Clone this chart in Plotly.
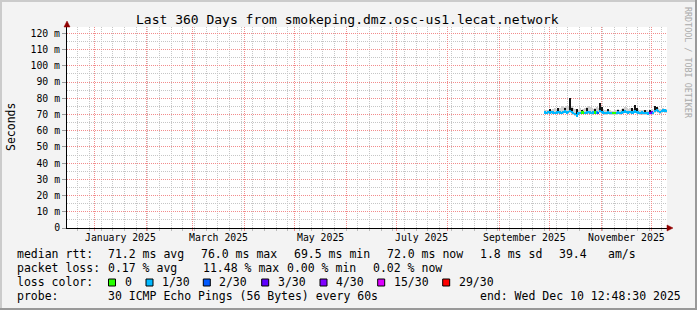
import plotly.graph_objects as go
import pandas as pd

# ---------------- data ----------------
START = "2024-12-15 12:48:30"
END = "2025-12-10 12:48:30"
TITLE = "Last 360 Days from smokeping.dmz.osc-us1.lecat.network"

# daily samples, Sep 28 2025 .. Dec 10 2025 (74 days), centred at noon
dates = pd.date_range("2025-09-28 12:00", periods=74, freq="D")

median_ms = [
    71.2, 71.0, 71.4, 71.1, 71.5, 71.2, 71.0, 71.3,
    71.6, 71.2, 71.0, 71.4, 71.7, 71.3, 71.5, 72.2,
    71.4, 70.8, 70.2, 69.5, 70.6, 71.0, 71.1, 71.2,
    71.0, 71.3, 71.5, 71.1, 71.0, 71.2, 71.1, 71.3,
    71.0, 72.0, 71.6, 71.2, 71.0, 70.9, 71.1, 71.0,
    71.0, 70.8, 70.9, 71.0, 71.2, 71.0, 71.1, 71.4,
    71.8, 71.5, 71.2, 71.6, 71.3, 71.2, 71.8, 71.5,
    71.1, 71.0, 71.2, 70.8, 71.0, 70.9, 70.7, 71.0,
    71.2, 71.0, 72.2, 72.8, 72.0, 71.6, 72.2, 72.5,
    72.3, 72.0,
]
smoke_hi_ms = [
    72.5, 72.8, 73.0, 73.6, 72.9, 73.5, 74.0, 73.2,
    74.2, 73.8, 74.5, 75.0, 74.6, 75.2, 75.5, 76.0,
    75.0, 74.0, 73.2, 72.5, 73.0, 73.8, 73.0, 73.4,
    74.0, 74.8, 75.2, 74.5, 74.0, 73.5, 74.2, 74.6,
    74.0, 75.5, 74.8, 73.6, 73.0, 72.8, 73.2, 72.6,
    72.4, 72.2, 72.5, 73.0, 73.2, 72.8, 73.6, 74.0,
    74.4, 74.0, 73.5, 74.2, 73.8, 73.6, 74.5, 74.0,
    73.2, 72.8, 73.0, 72.6, 73.0, 72.5, 72.4, 73.0,
    73.4, 73.0, 74.0, 74.5, 73.8, 73.2, 73.6, 73.8,
    73.5, 73.2,
]
smoke_lo_ms = [
    70.2, 70.0, 70.3, 70.1, 70.4, 70.2, 70.0, 70.2,
    70.5, 70.2, 70.0, 70.3, 70.6, 70.2, 70.4, 70.8,
    70.3, 69.8, 69.2, 68.8, 69.6, 70.0, 70.1, 70.2,
    70.0, 70.2, 70.4, 70.0, 69.9, 70.1, 70.0, 70.2,
    70.0, 70.6, 70.4, 70.1, 69.9, 69.8, 70.0, 69.9,
    69.9, 69.7, 69.8, 69.9, 70.1, 69.9, 70.0, 70.3,
    70.6, 70.4, 70.1, 70.5, 70.2, 70.1, 70.6, 70.4,
    70.0, 69.9, 70.1, 69.7, 69.9, 69.8, 69.6, 69.9,
    70.1, 69.9, 70.8, 71.4, 70.8, 70.4, 71.0, 71.3,
    71.1, 70.9,
]
N = None
spike_hi_ms = [
    N, N, N, 73.5, N, N, N, N,
    73.8, N, N, N, 74.0, N, N, 80.0,
    74.2, N, N, 73.2, N, N, 73.0, N,
    N, 73.8, N, N, N, N, 73.5, N,
    N, 77.0, 74.5, N, N, N, 73.2, N,
    N, N, N, N, 72.9, N, N, 73.5,
    N, N, N, N, 74.0, N, 76.0, 74.2,
    N, N, N, N, 73.0, N, N, 73.0,
    N, N, 75.5, 74.8, N, N, N, N,
    N, N,
]
loss_idx = [
    1, 1, 1, 1, 1, 1, 1, 1,
    1, 1, 1, 1, 1, 1, 1, 1,
    1, 1, 1, 1, 1, 1, 0, 0,
    1, 1, 1, 1, 1, 1, 0, 1,
    2, 1, 1, 1, 1, 1, 1, 1,
    1, 0, 0, 1, 1, 1, 1, 1,
    1, 1, 1, 1, 1, 1, 1, 1,
    1, 1, 1, 1, 1, 1, 1, 4,
    3, 1, 1, 1, 1, 1, 1, 1,
    1, 1,
]
loss_labels = ["0", "1/30", "2/30", "3/30", "4/30", "15/30", "29/30"]
loss_colors = ["#26ff00", "#00b8ff", "#0059ff", "#5e00ff", "#7e00ff", "#dd00ff", "#ff0000"]

y_ticks = [0, 10, 20, 30, 40, 50, 60, 70, 80, 90, 100, 110, 120]
y_ticktext = ["0", "10 m", "20 m", "30 m", "40 m", "50 m", "60 m", "70 m",
              "80 m", "90 m", "100 m", "110 m", "120 m"]
y_minor = [5, 15, 25, 35, 45, 55, 65, 75, 85, 95, 105, 115]
Y_MAX = 123.9

month_starts = pd.date_range("2025-01-01", "2025-12-01", freq="MS")
week_lines = pd.date_range("2024-12-22", "2025-12-07", freq="7D")
label_months = ["2025-01-01", "2025-03-01", "2025-05-01", "2025-07-01", "2025-09-01", "2025-11-01"]
label_text = ["January 2025", "March 2025", "May 2025", "July 2025", "September 2025", "November 2025"]

legend_rows = [
    [(16, "median rtt:"), (107, "71.2 ms avg"), (200, "76.0 ms max"), (293, "69.5 ms min"),
     (386, "72.0 ms now"), (479, "1.8 ms sd"), (558, "39.4"), (607, "am/s")],
    [(16, "packet loss:"), (107, "0.17 % avg"), (201.5, "11.48 % max"), (286, "0.00 % min"),
     (372.5, "0.02 % now")],
    [(16, "loss color:")],
    [(16, "probe:"), (107, "30 ICMP Echo Pings (56 Bytes) every 60s"),
     (479, "end: Wed Dec 10 12:48:30 2025")],
]
legend_row_y = [254.3, 268.3, 282.3, 296.0]
loss_box_x = [108.5, 146.0, 203.3, 261.7, 320.0, 377.7, 442.7]

# ---------------- layout helpers ----------------
W, H = 697, 310
ML, MT, PW, PH = 67, 27, 600, 201
MONO = "DejaVu Sans Mono"
DAY_MS = 86400000


def px(x):
    return (x - ML) / PW


def py(y):
    return (MT + PH - y) / PH


fig = go.Figure()

fig.add_trace(go.Bar(
    x=dates, base=smoke_lo_ms,
    y=[h - l for h, l in zip(smoke_hi_ms, smoke_lo_ms)],
    width=DAY_MS, marker=dict(color="#cfcfcf", line_width=0), hoverinfo="skip"))
fig.add_trace(go.Bar(
    x=dates, base=median_ms,
    y=[(s - m) if s is not None else None for s, m in zip(spike_hi_ms, median_ms)],
    width=DAY_MS * 0.9, marker=dict(color="#151515", line_width=0), hoverinfo="skip"))
fig.add_trace(go.Bar(
    x=dates, base=[m - 0.8 for m in median_ms], y=[1.6] * len(median_ms),
    width=DAY_MS, marker=dict(color=[loss_colors[i] for i in loss_idx], line_width=0),
    hoverinfo="skip"))

red_grid = "#f28c8c"
gray_grid = "#c6c6c6"

month_mid = []
for m in label_months:
    s = pd.Timestamp(m)
    e = s + pd.offsets.MonthBegin(1)
    month_mid.append(s + (e - s) / 2)

fig.update_layout(
    width=W, height=H,
    margin=dict(l=ML, r=W - ML - PW, t=MT, b=H - MT - PH, pad=0, autoexpand=False),
    paper_bgcolor="#F3F3F3", plot_bgcolor="#FFFFFF",
    showlegend=False, barmode="overlay", bargap=0,
    font=dict(family=MONO, size=11.5, color="#000000"),
    xaxis=dict(
        type="date", range=[START, END], autorange=False, tickmode="array",
        tickvals=list(month_starts), ticktext=[""] * len(month_starts),
        ticks="outside", ticklen=2, tickcolor=red_grid,
        showgrid=True, gridcolor=red_grid, griddash="1px,1px", gridwidth=1,
        showline=True, linecolor="#000000", linewidth=1, zeroline=False,
        automargin=False,
        minor=dict(tickmode="array", tickvals=list(week_lines), ticks="outside",
                   ticklen=2, tickcolor="#bbbbbb", showgrid=True,
                   gridcolor=gray_grid, griddash="1px,1px", gridwidth=1),
        fixedrange=True,
    ),
    yaxis=dict(
        range=[0, Y_MAX], autorange=False, tickmode="array", tickvals=y_ticks,
        ticktext=y_ticktext, automargin=False,
        ticks="outside", ticklen=4, tickcolor="#999999",
        showgrid=True, gridcolor=red_grid, griddash="1px,1px", gridwidth=1,
        showline=True, linecolor="#000000", linewidth=1, zeroline=False,
        tickfont=dict(family=MONO, size=9.8, color="#000000"),
        minor=dict(tickmode="array", tickvals=y_minor, ticks="", showgrid=True,
                   gridcolor=gray_grid, griddash="1px,1px", gridwidth=1),
        fixedrange=True,
    ),
)

ann = []
for mx, lt in zip(month_mid, label_text):
    ann.append(dict(x=mx, y=py(237.7), xref="x", yref="paper", text=lt,
                    showarrow=False, xanchor="center", yanchor="middle",
                    font=dict(family=MONO, size=9.8, color="#000000")))
ann.append(dict(x=px(347.8), y=py(19.3), xref="paper", yref="paper", text=TITLE,
                showarrow=False, xanchor="center", yanchor="middle",
                font=dict(family=MONO, size=13, color="#000000")))
ann.append(dict(x=px(10.5), y=py(127.5), xref="paper", yref="paper", text="Seconds",
                showarrow=False, textangle=-90, xanchor="center", yanchor="middle",
                font=dict(family=MONO, size=11.5, color="#000000")))
ann.append(dict(x=px(688), y=py(5), xref="paper", yref="paper",
                text="RRDTOOL / TOBI OETIKER", showarrow=False, textangle=90,
                xanchor="center", yanchor="top",
                font=dict(family=MONO, size=8.4, color="#aaaaaa")))
for row, yrow in zip(legend_rows, legend_row_y):
    for xp, t in row:
        ann.append(dict(x=px(xp - 1), y=py(yrow), xref="paper", yref="paper", text=t,
                        showarrow=False, xanchor="left", yanchor="middle",
                        font=dict(family=MONO, size=11.5, color="#000000")))
shapes = []
for bx, lab, col in zip(loss_box_x, loss_labels, loss_colors):
    shapes.append(dict(type="rect", xref="paper", yref="paper",
                       x0=px(bx), x1=px(bx + 7), y0=py(286), y1=py(279),
                       fillcolor=col, line=dict(color="#000000", width=1)))
    ann.append(dict(x=px(bx + 14), y=py(legend_row_y[2]), xref="paper", yref="paper",
                    text=lab, showarrow=False, xanchor="left", yanchor="middle",
                    font=dict(family=MONO, size=11.5, color="#000000")))

shapes += [
    dict(type="rect", xref="paper", yref="paper", x0=px(0), x1=px(W), y0=py(2), y1=py(0),
         fillcolor="#cbcbcb", line_width=0),
    dict(type="rect", xref="paper", yref="paper", x0=px(0), x1=px(2), y0=py(H), y1=py(0),
         fillcolor="#cbcbcb", line_width=0),
    dict(type="rect", xref="paper", yref="paper", x0=px(0), x1=px(W), y0=py(H), y1=py(H - 2),
         fillcolor="#999999", line_width=0),
    dict(type="rect", xref="paper", yref="paper", x0=px(W - 2), x1=px(W), y0=py(H), y1=py(0),
         fillcolor="#999999", line_width=0),
]
shapes.append(dict(type="path", xref="paper", yref="paper",
                   path=f"M {px(64)} {py(27)} L {px(70)} {py(27)} L {px(67)} {py(21)} Z",
                   fillcolor="#900000", line=dict(color="#900000", width=0.5)))
shapes.append(dict(type="path", xref="paper", yref="paper",
                   path=f"M {px(667)} {py(225)} L {px(667)} {py(231)} L {px(673)} {py(228)} Z",
                   fillcolor="#900000", line=dict(color="#900000", width=0.5)))

fig.update_layout(annotations=ann, shapes=shapes)
fig.write_html("out.html")
